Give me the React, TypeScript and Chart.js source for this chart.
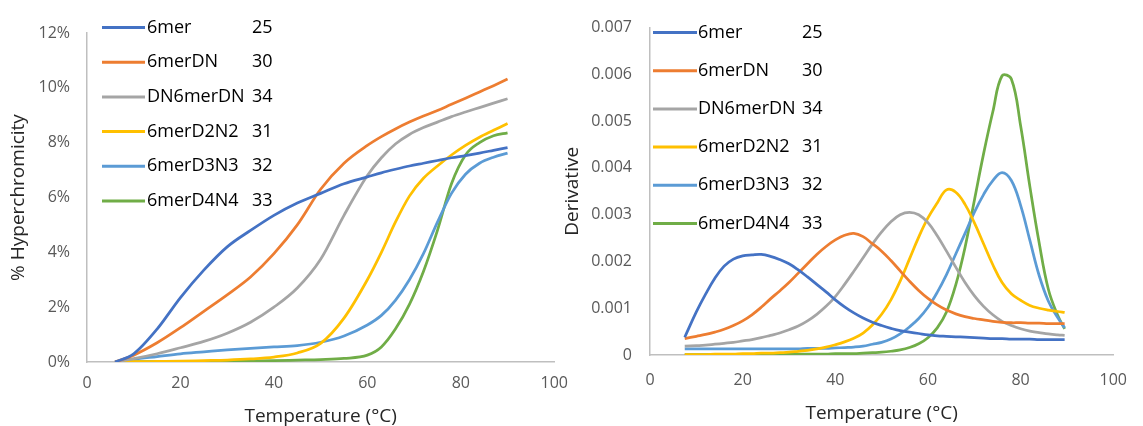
import React, { useEffect, useRef } from 'react';
import { Chart, registerables } from 'chart.js';

Chart.register(...registerables);

const FONT = "'Open Sans', sans-serif";

// ---------- data ----------
const seriesNames = ['6mer', '6merDN', 'DN6merDN', '6merD2N2', '6merD3N3', '6merD4N4'];
const seriesTm = ['25', '30', '34', '31', '32', '33'];
const seriesColors = ['#4472C4', '#ED7D31', '#A5A5A5', '#FFC000', '#5B9BD5', '#70AD47'];

// Left: % hyperchromicity vs temperature
const meltTemps = [6, 10, 15, 20, 25, 30, 35, 40, 45, 50, 55, 60, 63, 66, 69, 72, 75, 78, 81, 84, 87, 90];
const melt6mer = [0, 0.3, 1.2, 2.35, 3.35, 4.2, 4.8, 5.35, 5.8, 6.15, 6.5, 6.75, 6.9, 7.03, 7.15, 7.25, 7.35, 7.45, 7.53, 7.62, 7.72, 7.82];
const melt6merDN = [0, 0.25, 0.7, 1.25, 1.85, 2.45, 3.1, 3.95, 5.0, 6.3, 7.25, 7.9, 8.22, 8.5, 8.75, 8.97, 9.17, 9.4, 9.62, 9.85, 10.08, 10.32];
const meltDN6merDN = [0, 0.12, 0.3, 0.52, 0.75, 1.05, 1.45, 2.0, 2.7, 3.75, 5.35, 6.8, 7.45, 7.95, 8.3, 8.55, 8.75, 8.95, 9.12, 9.28, 9.44, 9.6];
const melt6merD2N2 = [0, 0.01, 0.02, 0.03, 0.05, 0.07, 0.11, 0.18, 0.33, 0.68, 1.6, 3.0, 4.0, 5.1, 6.05, 6.7, 7.15, 7.55, 7.9, 8.2, 8.45, 8.7];
const melt6merD3N3 = [0, 0.1, 0.2, 0.3, 0.37, 0.44, 0.5, 0.55, 0.6, 0.72, 0.95, 1.35, 1.7, 2.25, 3.0, 3.95, 5.1, 6.15, 6.85, 7.25, 7.47, 7.62];
const melt6merD4N4 = [0, 0.01, 0.015, 0.02, 0.025, 0.03, 0.04, 0.05, 0.07, 0.09, 0.13, 0.25, 0.55, 1.2, 2.1, 3.3, 4.8, 6.5, 7.55, 8.0, 8.25, 8.36];

// Right: derivative vs temperature
const derivTemps = [7.5, 10, 12, 14, 16, 18, 20, 22, 24, 26, 28, 30, 32, 34, 36, 38, 40, 42, 44, 46, 48, 50, 52, 54, 56, 58, 60, 62, 64, 66, 68, 70, 72, 74, 76, 78, 80, 82, 84, 86, 88, 89.5];
const deriv6mer = [0.00038, 0.00092, 0.0013, 0.00164, 0.0019, 0.00205, 0.00212, 0.00214, 0.00215, 0.00211, 0.00204, 0.00195, 0.00182, 0.00167, 0.00151, 0.00135, 0.00118, 0.00103, 0.0009, 0.00079, 0.0007, 0.00063, 0.00057, 0.00052, 0.00049, 0.00046, 0.00043, 0.00041, 0.0004, 0.00039, 0.00038, 0.00037, 0.00036, 0.00035, 0.00035, 0.00034, 0.00034, 0.00034, 0.00033, 0.00033, 0.00033, 0.00033];
const deriv6merDN = [0.00035, 0.0004, 0.00044, 0.00049, 0.00055, 0.00063, 0.00073, 0.00086, 0.00102, 0.0012, 0.00137, 0.00155, 0.00175, 0.00195, 0.00215, 0.00232, 0.00246, 0.00256, 0.0026, 0.00253, 0.00238, 0.00222, 0.00202, 0.0018, 0.00158, 0.00138, 0.00121, 0.00107, 0.00096, 0.00088, 0.00082, 0.00078, 0.00075, 0.00072, 0.0007, 0.00069, 0.00069, 0.00068, 0.00068, 0.00067, 0.00067, 0.00067];
const derivDN6merDN = [0.00019, 0.0002, 0.00021, 0.00023, 0.00025, 0.00027, 0.0003, 0.00033, 0.00037, 0.00042, 0.00047, 0.00054, 0.00062, 0.00073, 0.00087, 0.00104, 0.00125, 0.00151, 0.00179, 0.00208, 0.00237, 0.00263, 0.00285, 0.003, 0.00305, 0.003, 0.00283, 0.00255, 0.00222, 0.00188, 0.00155, 0.00127, 0.00104, 0.00086, 0.00072, 0.00063, 0.00056, 0.00051, 0.00048, 0.00045, 0.00043, 0.00042];
const deriv6merD2N2 = [0.00001, 0.00001, 0.00001, 0.00002, 0.00002, 0.00002, 0.00003, 0.00003, 0.00004, 0.00004, 0.00005, 0.00006, 0.00008, 0.0001, 0.00013, 0.00017, 0.00022, 0.00028, 0.00036, 0.00047, 0.00064, 0.00087, 0.00118, 0.00158, 0.00205, 0.00252, 0.00293, 0.00325, 0.00353, 0.00348, 0.00322, 0.00283, 0.00238, 0.00193, 0.00155, 0.00131, 0.00117, 0.00106, 0.001, 0.00096, 0.00093, 0.00091];
const deriv6merD3N3 = [0.00013, 0.00013, 0.00013, 0.00013, 0.00013, 0.00013, 0.00013, 0.00013, 0.00013, 0.00013, 0.00013, 0.00013, 0.00013, 0.00014, 0.00014, 0.00014, 0.00015, 0.00016, 0.00017, 0.00019, 0.00023, 0.00027, 0.00034, 0.00045, 0.0006, 0.00078, 0.00102, 0.00134, 0.00172, 0.00216, 0.0026, 0.00305, 0.00343, 0.00373, 0.0039, 0.00373, 0.0032, 0.00245, 0.0017, 0.00115, 0.0008, 0.00058];
const deriv6merD4N4 = [0.00001, 0.00001, 0.00001, 0.00001, 0.00001, 0.00001, 0.00001, 0.00001, 0.00001, 0.00001, 0.00001, 0.00002, 0.00002, 0.00002, 0.00002, 0.00002, 0.00003, 0.00003, 0.00003, 0.00004, 0.00005, 0.00006, 0.00008, 0.00011, 0.00016, 0.00024, 0.00037, 0.00058, 0.00092, 0.0015, 0.0023, 0.0033, 0.0043, 0.0052, 0.00597, 0.0059, 0.0049, 0.0036, 0.0024, 0.0014, 0.00085, 0.00056];

const meltSeries = [melt6mer, melt6merDN, meltDN6merDN, melt6merD2N2, melt6merD3N3, melt6merD4N4];
const derivSeries = [deriv6mer, deriv6merDN, derivDN6merDN, deriv6merD2N2, deriv6merD3N3, deriv6merD4N4];

const xTitle = 'Temperature (°C)';
const meltYTitle = '% Hyperchromicity';
const derivYTitle = 'Derivative';

// ---------- legend plugin (drawn inside plot area) ----------
const insideLegend = {
  id: 'insideLegend',
  afterDatasetsDraw(chart: any, _args: any, opts: any) {
    const { ctx } = chart;
    ctx.save();
    ctx.font = `${opts.fontSize}px ${FONT}`;
    ctx.textBaseline = 'middle';
    ctx.textAlign = 'left';
    chart.data.datasets.forEach((ds: any, i: number) => {
      const y = opts.y0 + i * opts.dy;
      ctx.strokeStyle = ds.borderColor;
      ctx.lineWidth = 3;
      ctx.lineCap = 'butt';
      ctx.beginPath();
      ctx.moveTo(opts.lineX0, y);
      ctx.lineTo(opts.lineX1, y);
      ctx.stroke();
      ctx.fillStyle = '#000000';
      ctx.fillText(seriesNames[i], opts.textX, y);
      ctx.fillText(seriesTm[i], opts.numX, y);
    });
    ctx.restore();
  },
};

function makeDatasets(temps: number[], series: number[][], mode: string, tension: number) {
  return series.map((vals, i) => ({
    label: seriesNames[i] + ' ' + seriesTm[i],
    data: temps.map((t, j) => ({ x: t, y: vals[j] })),
    borderColor: seriesColors[i],
    backgroundColor: seriesColors[i],
    borderWidth: 2.75,
    pointRadius: 0,
    fill: false,
    tension,
    cubicInterpolationMode: mode,
  }));
}

const tickColor = '#595959';
const axisColor = '#BFBFBF';

function axisX(tickPad: number, titlePadBottom: number, height: number) {
  return {
    type: 'linear',
    min: 0,
    max: 100,
    ticks: { stepSize: 20, color: tickColor, padding: tickPad, font: { size: 16, family: FONT } },
    grid: { display: false, drawTicks: false },
    border: { display: true, color: axisColor, width: 1.5 },
    title: {
      display: true,
      text: xTitle,
      color: '#262626',
      font: { size: 19, family: FONT, lineHeight: 1 },
      padding: { top: 0, bottom: titlePadBottom },
    },
    afterFit: (s: any) => {
      s.height = height;
    },
  };
}

function ChartCanvas({ config, left, width }: { config: any; left: number; width: number }) {
  const ref = useRef<HTMLCanvasElement | null>(null);
  useEffect(() => {
    if (!ref.current) return;
    const chart = new Chart(ref.current, config);
    return () => chart.destroy();
  }, [config]);
  return (
    <canvas
      ref={ref}
      width={width}
      height={426}
      style={{ position: 'absolute', left, top: 0, width, height: 426 }}
    />
  );
}

const meltConfig: any = {
  type: 'line',
  data: { datasets: makeDatasets(meltTemps, meltSeries, 'monotone', 0.4) },
  plugins: [insideLegend],
  options: {
    responsive: false,
    animation: false,
    layout: { padding: { left: 0, top: 33, right: 20, bottom: 0 } },
    plugins: {
      legend: { display: false },
      tooltip: { enabled: false },
      insideLegend: { fontSize: 18, y0: 27.5, dy: 34.7, lineX0: 102, lineX1: 145, textX: 147, numX: 252 },
    },
    scales: {
      x: axisX(12, 0, 64),
      y: {
        type: 'linear',
        min: 0,
        max: 12,
        ticks: {
          stepSize: 2,
          color: tickColor,
          padding: 17,
          font: { size: 16, family: FONT },
          callback: (v: number) => `${Math.round(v)}%`,
        },
        grid: { display: false, drawTicks: false },
        border: { display: true, color: axisColor, width: 1.5 },
        title: {
          display: true,
          text: meltYTitle,
          color: '#262626',
          font: { size: 19, family: FONT, lineHeight: 1.2 },
          padding: { top: 7, bottom: 0 },
        },
        afterFit: (s: any) => {
          s.width = 87;
        },
      },
    },
  },
};

const derivConfig: any = {
  type: 'line',
  data: { datasets: makeDatasets(derivTemps, derivSeries, 'default', 0.4) },
  plugins: [insideLegend],
  options: {
    responsive: false,
    animation: false,
    layout: { padding: { left: 0, top: 22, right: 18, bottom: 0 } },
    plugins: {
      legend: { display: false },
      tooltip: { enabled: false },
      insideLegend: { fontSize: 18, y0: 32.5, dy: 38.2, lineX0: 98, lineX1: 142, textX: 143, numX: 247 },
    },
    scales: {
      x: axisX(16, 3, 71),
      y: {
        type: 'linear',
        min: 0,
        max: 0.007,
        ticks: {
          stepSize: 0.001,
          color: tickColor,
          padding: 18,
          font: { size: 16, family: FONT },
          callback: (v: number) => (Math.abs(v) < 1e-9 ? '0' : v.toFixed(3)),
        },
        grid: { display: false, drawTicks: false },
        border: { display: true, color: axisColor, width: 1.5 },
        title: {
          display: true,
          text: derivYTitle,
          color: '#262626',
          font: { size: 19, family: FONT, lineHeight: 1.2 },
          padding: { top: 6, bottom: 0 },
        },
        afterFit: (s: any) => {
          s.width = 95;
        },
      },
    },
  },
};

export default function App() {
  return (
    <div style={{ position: 'absolute', left: 0, top: 0, width: 1143, height: 426, background: '#ffffff' }}>
      <ChartCanvas config={meltConfig} left={0} width={580} />
      <ChartCanvas config={derivConfig} left={555} width={588} />
    </div>
  );
}
